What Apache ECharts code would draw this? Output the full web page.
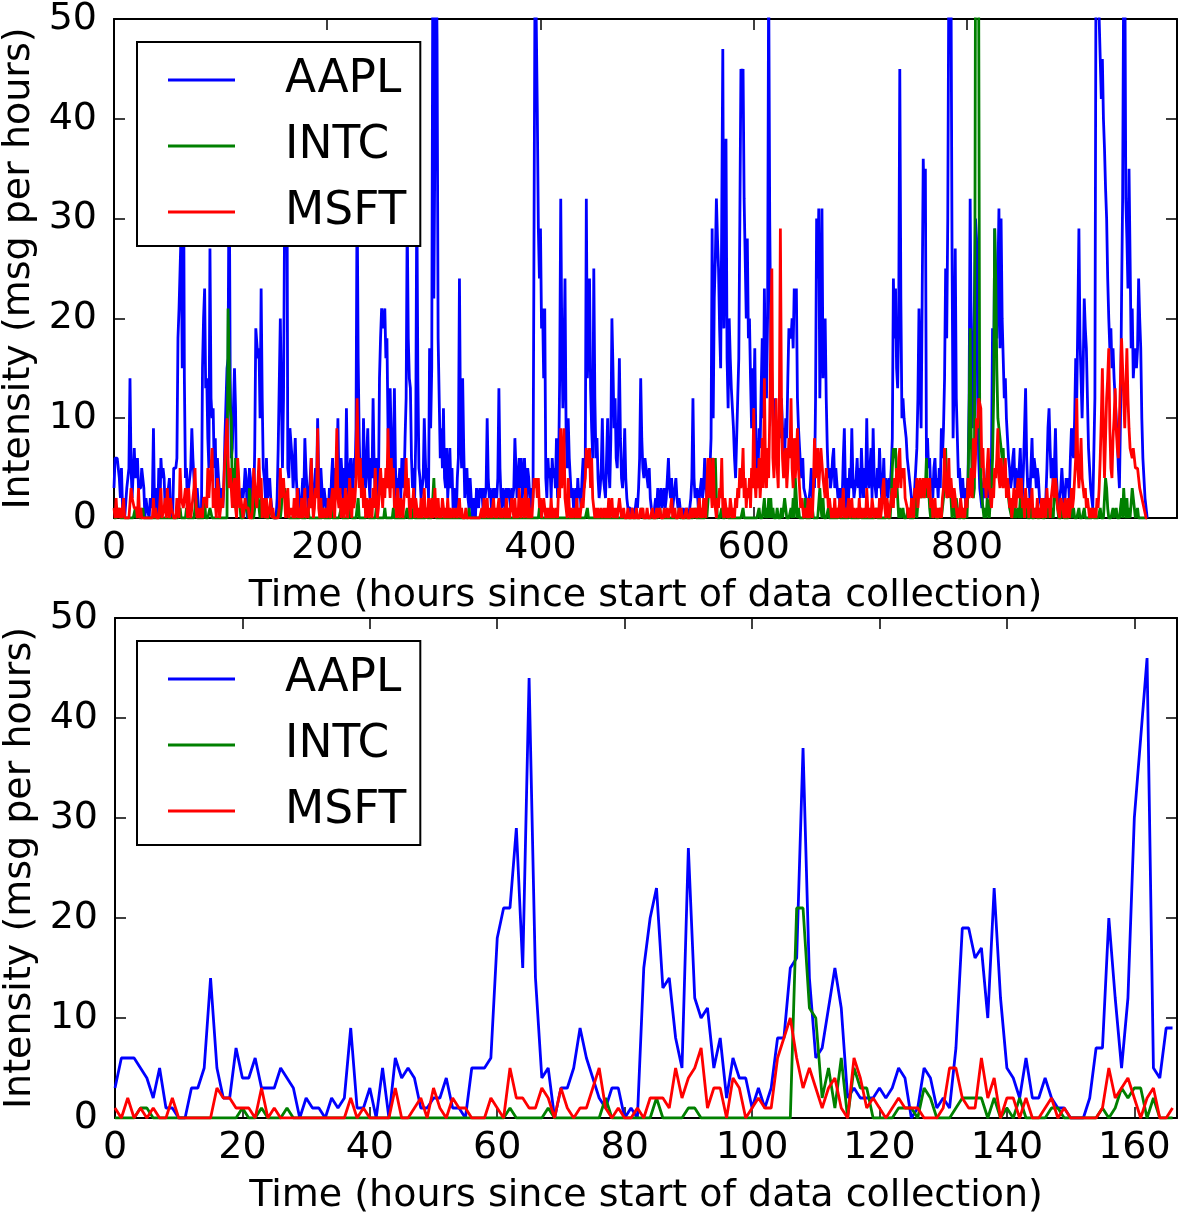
<!DOCTYPE html>
<html>
<head>
<meta charset="utf-8">
<script src="https://cdn.jsdelivr.net/npm/echarts@6/dist/echarts.min.js"></script>
<style>
  html, body { margin: 0; padding: 0; background: #fff; }
  #chart { width: 1180px; height: 1212px; }
</style>
</head>
<body>
<div id="chart"></div>
<script>
// messages per hour, hours 0..166 (this is the whole lower panel)
const aaplFirst = [
  3,6,6,6,5,4,2,5,1,1, 0,0,3,3,5,14,5,2,2,7, 4,4,6,3,3,3,5,4,3,0,
  2,1,1,0,2,1,2,9,1,1, 3,0,5,0,6,4,5,4,1,1, 2,2,4,1,1,0,5,5,5,6,
  18,21,21,29,15,44,14,4,5,0, 3,3,5,9,6,4,2,1,3,3, 0,1,0,15,20,23,13,14,8,5,
  27,12,10,11,5,8,2,6,4,4, 1,3,1,3,8,8,15,16,37,14, 6,7,11,15,11,2,3,2,2,2,
  3,2,3,5,4,0,1,5,4,1, 2,1,7,19,19,16,17,10,23,12, 5,4,2,6,2,2,4,2,1,1,
  0,0,0,2,7,7,20,12,5,12, 30,38,46,5,4,9,9
];
const intcFirst = [
  0,0,0,0,1,1,0,0,0,0, 0,0,0,0,0,0,0,0,0,0, 1,0,0,1,0,0,0,1,0,0,
  0,0,0,0,0,0,0,0,0,0, 0,0,0,0,0,0,0,0,0,0, 0,0,0,0,0,0,0,0,0,0,
  0,0,1,0,0,0,0,0,1,0, 0,0,0,0,0,0,0,2,0,0, 0,0,0,0,0,2,0,0,0,0,
  1,1,0,0,0,0,0,0,0,0, 0,0,0,0,0,0,0,21,21,11, 10,2,5,1,6,0,5,3,3,0,
  0,0,0,1,1,1,0,3,2,0, 0,0,1,2,2,2,2,0,2,0, 1,0,2,0,0,0,0,1,1,0,
  0,0,0,0,0,1,0,1,3,2, 3,3,0,2,0,0,0
];
const msftFirst = [
  1,0,2,0,1,0,1,0,0,2, 0,0,0,0,0,0,3,2,2,1, 1,1,0,3,0,1,0,0,0,0,
  0,0,0,0,0,0,0,2,0,1, 0,0,0,0,3,0,0,1,2,0, 3,1,0,2,1,1,0,0,0,2,
  1,0,5,2,2,1,1,3,2,0, 3,1,0,1,1,3,5,1,0,1, 0,0,1,0,2,2,2,1,5,2,
  4,5,7,1,3,3,0,4,3,0, 1,2,1,1,6,8,10,6,3,5, 3,1,3,4,1,0,6,4,1,2,
  1,0,1,2,1,1,1,0,0,0, 1,5,5,2,1,1,6,2,4,0, 2,2,0,2,0,0,1,2,0,1,
  0,0,0,0,0,1,5,2,3,4, 2,0,2,3,0,0,1
];

// hours 167..969, only in the upper panel
const aaplRest = [
  6,3,5,8,4,2,3,1,0,2, 4,2,8,5,3,1,2,4,6,3, 1,2,5,3,10,4,2,5,3,1,
  3,2,1,2,0,3,1,4,6,2, 5,3,4,10,3,2,6,4,2,5, 3,11,4,2,5,6,3,2,6,4,
  9,33,16,8,3,6,2,10,5,3, 6,9,4,2,6,4,12,5,3,6, 4,2,14,18,21,19,20,21,16,18,
  9,4,13,8,3,6,13,5,2,4, 3,5,2,6,4,3,8,12,30,18, 14,13,6,3,5,2,8,33,14,5,
  4,2,3,4,10,6,3,5,2,17, 9,15,55,22,38,60,48,18,12,6, 9,5,11,4,3,7,2,4,7,3,
  5,1,3,2,0,4,6,24,9,5, 14,7,2,4,5,2,1,4,2,0, 2,1,0,3,2,1,3,2,3,1,
  3,2,3,10,4,2,3,1,2,3, 2,3,2,4,13,5,2,1,3,2, 1,3,2,3,2,1,3,2,3,8,
  5,2,4,6,3,6,2,4,6,3, 2,5,4,2,1,3,2,30,58,50, 41,29,24,29,19,21,14,21,4,2,
  6,4,5,2,6,4,5,3,8,2, 5,14,32,18,11,16,24,9,5,10, 6,4,2,3,1,2,3,1,4,2,
  3,1,4,6,3,5,32,14,18,24, 13,9,6,25,12,6,8,4,2,3, 5,10,4,3,2,6,10,5,3,8,
  20,15,9,12,6,5,9,16,8,4, 3,5,9,4,2,1,1,1,0,1, 1,0,1,2,1,3,6,14,8,5,
  4,6,5,5,3,5,2,1,1,0, 1,2,1,3,1,2,3,1,2,3, 1,2,4,6,3,2,4,1,2,3,
  4,2,1,2,1,1,0,1,1,0, 1,1,0,1,2,4,12,4,2,2, 3,1,2,3,4,2,3,6,4,2,
  2,3,5,8,29,10,22,26,32,28, 25,19,15,30,47,19,26,38,16,11, 20,16,13,11,9,6,4,8,12,16,
  30,45,42,45,32,26,20,28,18,20, 14,9,15,11,17,8,5,4,9,7, 13,18,10,23,15,12,20,55,30,18,
  14,10,8,12,9,7,6,10,8,12, 9,7,6,10,8,14,19,19,18,20, 17,23,21,23,12,9,7,5,4,6,
  3,3,2,2,1,2,3,5,2,4, 3,12,30,24,31,12,20,31,14,18, 20,12,7,4,5,3,4,6,7,3,
  5,5,2,3,1,3,2,6,9,3, 1,4,2,5,3,9,4,2,3,4, 6,3,5,2,7,4,2,5,3,10,
  4,3,5,7,2,9,4,3,2,5, 3,7,4,2,3,6,2,4,3,2, 4,3,5,8,24,18,23,15,13,20,
  45,22,10,12,10,9,8,6,5,4, 3,2,2,1,3,5,7,12,21,14, 9,22,36,30,35,6,8,5,6,3,
  4,2,5,6,3,4,2,5,3,9, 6,9,14,25,18,30,55,58,55,27, 8,14,27,12,8,4,5,3,2,4,
  2,3,1,1,4,12,32,18,9,14, 22,30,28,12,6,3,2,1,3,4, 2,3,5,2,4,3,6,19,12,29,
  22,18,24,31,17,30,20,16,12,14, 10,8,6,5,3,4,6,7,3,5, 4,2,5,7,3,2,5,9,13,6,
  3,4,2,5,8,4,6,5,3,5, 4,2,2,1,2,1,0,2,5,9, 11,7,4,6,3,5,9,4,2,1,
  2,3,5,3,1,2,4,3,4,2, 6,9,7,6,10,16,12,20,29,18, 14,10,15,22,19,17,12,7,5,3,
  2,1,1,12,55,60,56,50,46,42, 46,40,37,33,30,24,20,17,19,15, 17,14,12,10,8,5,3,10,22,32,
  55,58,32,28,23,35,26,17,21,14, 16,17,15,17,24,20,17,10,6,4, 2,1,0
];
const intcRest = [
  0,0,0,0,0,0,0,0,1,0, 0,0,0,0,0,1,0,0,0,0, 0,0,0,0,0,0,0,0,0,1,
  0,0,0,0,0,0,0,1,0,0, 0,0,0,0,0,0,1,0,0,0, 0,0,0,0,0,1,0,0,0,0,
  0,0,2,0,0,0,0,0,0,0, 0,1,0,0,0,0,0,0,0,1, 0,0,0,0,0,0,0,1,0,0,
  0,0,0,0,0,1,0,0,0,0, 0,0,0,0,0,0,0,0,1,0, 0,0,0,0,1,0,0,0,0,0,
  0,0,0,0,0,0,1,0,0,0, 0,0,0,4,1,0,0,0,0,0, 0,0,0,0,0,0,0,0,0,0,
  0,0,0,0,0,0,0,0,0,0, 0,0,0,0,0,0,1,0,0,0, 0,0,0,0,0,0,0,0,0,0,
  0,0,0,0,0,0,0,0,0,0, 0,0,0,0,0,0,0,0,0,0, 0,0,0,0,0,0,0,0,0,0,
  0,0,0,0,0,0,0,0,0,0, 0,0,0,0,0,0,0,0,0,0, 0,0,1,0,0,0,0,0,0,0,
  0,0,0,0,0,0,0,0,0,0, 0,0,0,0,0,0,0,0,0,0, 0,0,0,0,0,0,0,0,0,0,
  0,0,0,0,0,0,0,1,0,0, 0,0,0,0,0,0,0,0,0,0, 0,0,0,0,0,0,0,0,0,0,
  0,0,0,0,0,0,0,0,0,0, 0,0,0,0,0,0,0,0,0,0, 0,0,0,0,0,0,0,0,1,0,
  0,0,0,0,0,0,0,0,0,0, 0,0,0,0,0,1,0,0,0,0, 0,0,0,0,0,0,0,0,0,0,
  0,0,0,1,0,0,0,0,0,0, 0,0,0,0,0,0,0,0,1,0, 0,0,0,0,0,0,0,0,1,0,
  0,3,2,4,6,6,5,6,2,0, 0,0,0,1,0,0,0,0,1,0, 0,0,0,0,0,0,0,0,0,0,
  0,0,0,1,0,0,0,0,0,0, 0,0,0,0,0,0,0,0,1,0, 0,0,0,2,0,1,0,2,0,2,
  0,1,0,0,0,1,0,0,0,1, 0,0,2,1,0,0,0,0,1,0, 2,0,4,2,0,1,0,0,0,0,
  0,2,0,0,0,0,0,0,1,0, 0,0,0,0,0,3,1,0,2,0, 0,0,0,1,0,0,0,0,0,0,
  0,0,0,1,0,0,0,0,0,0, 0,0,0,1,0,0,0,0,0,0, 0,0,0,1,0,0,0,0,0,0,
  0,0,0,0,0,0,0,0,1,0, 0,0,0,0,0,0,0,0,1,0, 0,0,2,5,7,6,7,4,2,0,
  1,0,0,1,0,0,0,0,1,0, 0,0,0,0,0,2,0,0,3,3, 2,3,3,2,3,6,2,3,1,0,
  1,0,0,1,0,0,0,0,1,0, 0,2,5,7,3,2,4,4,2,0, 1,2,0,2,1,0,0,0,1,0,
  0,0,1,0,3,10,19,8,3,2, 3,55,60,58,52,8,4,2,1,0, 1,0,2,1,0,2,3,6,12,29,
  24,15,10,9,9,7,6,7,4,4, 3,3,2,1,1,0,2,0,1,0, 0,1,0,2,0,0,1,0,0,1,
  0,0,0,1,0,0,0,0,1,0, 0,0,0,1,0,0,0,0,1,0, 0,2,0,1,0,3,4,2,1,0,
  0,0,0,1,0,0,0,0,0,0, 1,0,0,1,0,0,0,0,1,0, 0,0,0,1,0,0,0,0,0,0,
  0,1,0,0,0,0,0,0,1,0, 0,0,2,4,3,1,0,0,0,0, 1,0,0,1,0,0,0,0,2,0,
  3,1,0,2,0,1,0,0,3,2, 1,0,0,1,0,0,0,0,0,0, 0,0,0
];
const msftRest = [
  1,0,2,0,1,3,0,1,0,2, 0,1,3,0,1,0,2,1,6,2, 0,1,3,2,9,1,0,2,0,1,
  0,0,1,0,2,1,0,2,3,1, 0,4,9,2,1,3,0,2,1,0, 3,2,0,1,4,2,0,3,1,2,
  4,12,7,3,6,2,4,1,3,0, 2,1,0,2,1,0,3,1,5,2, 0,1,3,5,3,1,4,2,5,3,
  9,4,2,6,3,5,1,2,0,3, 1,0,2,1,0,2,3,6,2,4, 1,0,2,1,3,0,2,1,0,1,
  0,2,0,1,3,0,1,0,2,1, 0,2,0,1,3,0,1,2,0,1, 0,2,1,0,1,0,2,0,1,0,
  0,1,0,0,1,0,0,2,0,1, 0,0,0,1,0,0,0,0,0,0, 0,0,0,0,0,0,0,0,1,0,
  2,0,1,2,0,0,1,0,0,2, 0,1,0,0,2,0,1,0,0,1, 0,2,0,1,0,0,2,1,0,2,
  0,1,0,3,1,0,2,1,0,3, 1,0,2,0,1,0,2,4,3,4, 2,4,1,2,0,1,2,2,0,1,
  0,1,0,2,0,1,0,0,1,0, 3,2,9,3,5,9,2,1,0,4, 1,0,1,0,0,1,0,2,0,1,
  0,0,2,1,3,4,7,5,6,7, 3,6,2,1,0,1,0,1,0,0, 1,0,0,1,0,1,0,2,0,1,
  2,0,1,0,1,0,0,2,1,0, 0,1,0,0,0,1,0,0,0,1, 0,0,0,1,0,0,0,1,0,1,
  0,0,0,1,0,0,0,0,1,0, 0,0,1,0,0,1,0,0,0,1, 0,0,1,0,0,1,2,0,0,1,
  0,0,0,1,0,1,0,0,0,0, 1,0,0,0,1,0,1,0,0,1, 0,0,2,0,1,0,2,1,0,3,
  6,2,6,3,1,6,2,1,0,2, 1,3,2,6,1,0,2,1,0,1, 0,2,1,0,1,0,2,1,3,2,
  5,3,4,7,2,4,1,3,2,4, 1,5,3,11,4,2,5,3,6,2, 4,8,3,14,5,3,7,4,10,18,
  25,6,4,8,12,5,3,10,29,12, 6,4,6,7,3,5,8,6,12,5, 3,8,4,6,9,5,3,1,2,2,
  0,1,1,0,2,0,1,2,0,3, 8,4,6,7,3,5,7,7,4,4, 2,5,3,1,2,2,0,1,0,2,
  0,1,0,1,2,0,1,3,0,1, 0,0,2,0,1,2,0,1,0,0, 1,0,2,0,1,0,0,1,0,3,
  1,0,1,0,2,2,0,1,0,1, 0,2,0,1,3,4,1,0,2,1, 0,1,2,3,1,4,2,5,3,6,
  7,3,5,4,5,2,2,1,0,1, 0,2,1,0,3,2,4,1,3,4, 2,3,4,2,4,3,4,2,4,1,
  2,0,1,2,0,1,0,1,1,0, 2,3,7,4,2,3,6,2,4,4, 1,3,2,2,0,1,0,2,1,0,
  1,0,2,1,4,2,3,5,2,8, 4,6,10,9,12,12,11,5,7,3, 4,2,5,7,3,2,1,3,2,5,
  4,6,9,4,3,6,4,3,5,6, 2,4,3,1,2,0,1,3,2,1, 3,4,2,3,4,1,2,0,3,1,
  2,0,2,1,3,0,1,1,0,2, 0,1,0,2,0,1,2,0,3,1, 2,0,2,3,4,2,4,3,1,1,
  0,2,2,1,0,2,0,1,2,0, 1,3,1,2,4,6,12,5,3,5, 8,4,3,2,3,1,2,1,0,1,
  0,1,0,1,0,2,1,3,6,10, 15,9,4,8,12,14,17,9,5,4, 8,10,13,9,7,6,10,14,18,15,
  12,9,13,17,12,9,7,7,6,7, 6,5,5,5,4,3,3,2,2,1, 1,0,0
];

const seriesNames = ['AAPL', 'INTC', 'MSFT'];
const seriesColors = ['#0000ff', '#008000', '#ff0000'];
const yTicks = [0, 10, 20, 30, 40, 50];
const topXMax = 997;      // hours shown on the upper axis
const bottomXMax = 166.7; // hours shown on the lower axis

const FONT = 'DejaVu Sans';
const yLabel = 'Intensity (msg per hours)';
const xLabel = 'Time (hours since start of data collection)';

const lower = [aaplFirst, intcFirst, msftFirst];
const upper = [aaplFirst.concat(aaplRest), intcFirst.concat(intcRest), msftFirst.concat(msftRest)];

function pts(arr) {
  return arr.map(function (v, i) { return [i, v]; });
}

const frame = { onZero: false, lineStyle: { color: '#000', width: 2 } };
const ticks = { inside: true, length: 11, lineStyle: { color: '#000', width: 1.5 } };
const labelFont = { fontFamily: FONT, fontSize: 38, color: '#000' };

function xPair(grid, max, interval) {
  var base = { type: 'value', gridIndex: grid, min: 0, max: max, interval: interval,
    splitLine: { show: false }, axisLine: frame, axisTick: ticks };
  return [
    Object.assign({}, base, {
      position: 'bottom',
      name: xLabel, nameLocation: 'middle', nameGap: 59,
      nameTextStyle: labelFont,
      axisLabel: Object.assign({ margin: 11, showMaxLabel: false }, labelFont)
    }),
    Object.assign({}, base, { position: 'top', axisLabel: { show: false } })
  ];
}

function yPair(grid) {
  var base = { type: 'value', gridIndex: grid, min: yTicks[0], max: yTicks[yTicks.length - 1],
    interval: yTicks[1] - yTicks[0], splitLine: { show: false }, axisLine: frame, axisTick: ticks };
  return [
    Object.assign({}, base, {
      position: 'left',
      name: yLabel, nameLocation: 'middle', nameRotate: 90, nameGap: 70,
      nameTextStyle: labelFont,
      axisLabel: Object.assign({ margin: 17 }, labelFont)
    }),
    Object.assign({}, base, { position: 'right', axisLabel: { show: false } })
  ];
}

function legendAt(top) {
  return {
    orient: 'vertical', left: 137, top: top,
    data: seriesNames, icon: 'rect', itemWidth: 67, itemHeight: 3, itemGap: 16,
    padding: [13, 14, 9, 31],
    backgroundColor: '#fff', borderColor: '#000', borderWidth: 2,
    selectedMode: false,
    textStyle: { fontFamily: FONT, fontSize: 45.5, color: '#000', lineHeight: 50, padding: [0, 0, 0, 45] }
  };
}

function lines(sets, axisIdx) {
  return sets.map(function (arr, k) {
    return {
      name: seriesNames[k], type: 'line', xAxisIndex: axisIdx, yAxisIndex: axisIdx,
      data: pts(arr), showSymbol: false, symbol: 'none',
      itemStyle: { color: seriesColors[k] },
      lineStyle: { color: seriesColors[k], width: 2.8 }
    };
  });
}

var chart = echarts.init(document.getElementById('chart'));
chart.setOption({
  animation: false,
  backgroundColor: '#fff',
  grid: [
    { left: 114, top: 19, width: 1063, height: 499, outerBoundsMode: 'none', containLabel: false },
    { left: 115, top: 618, width: 1062, height: 500, outerBoundsMode: 'none', containLabel: false }
  ],
  xAxis: xPair(0, topXMax, 200).concat(xPair(1, bottomXMax, 20)),
  yAxis: yPair(0).concat(yPair(1)),
  legend: [legendAt(42), legendAt(641)],
  series: lines(upper, 0).concat(lines(lower, 2))
});
</script>
</body>
</html>
